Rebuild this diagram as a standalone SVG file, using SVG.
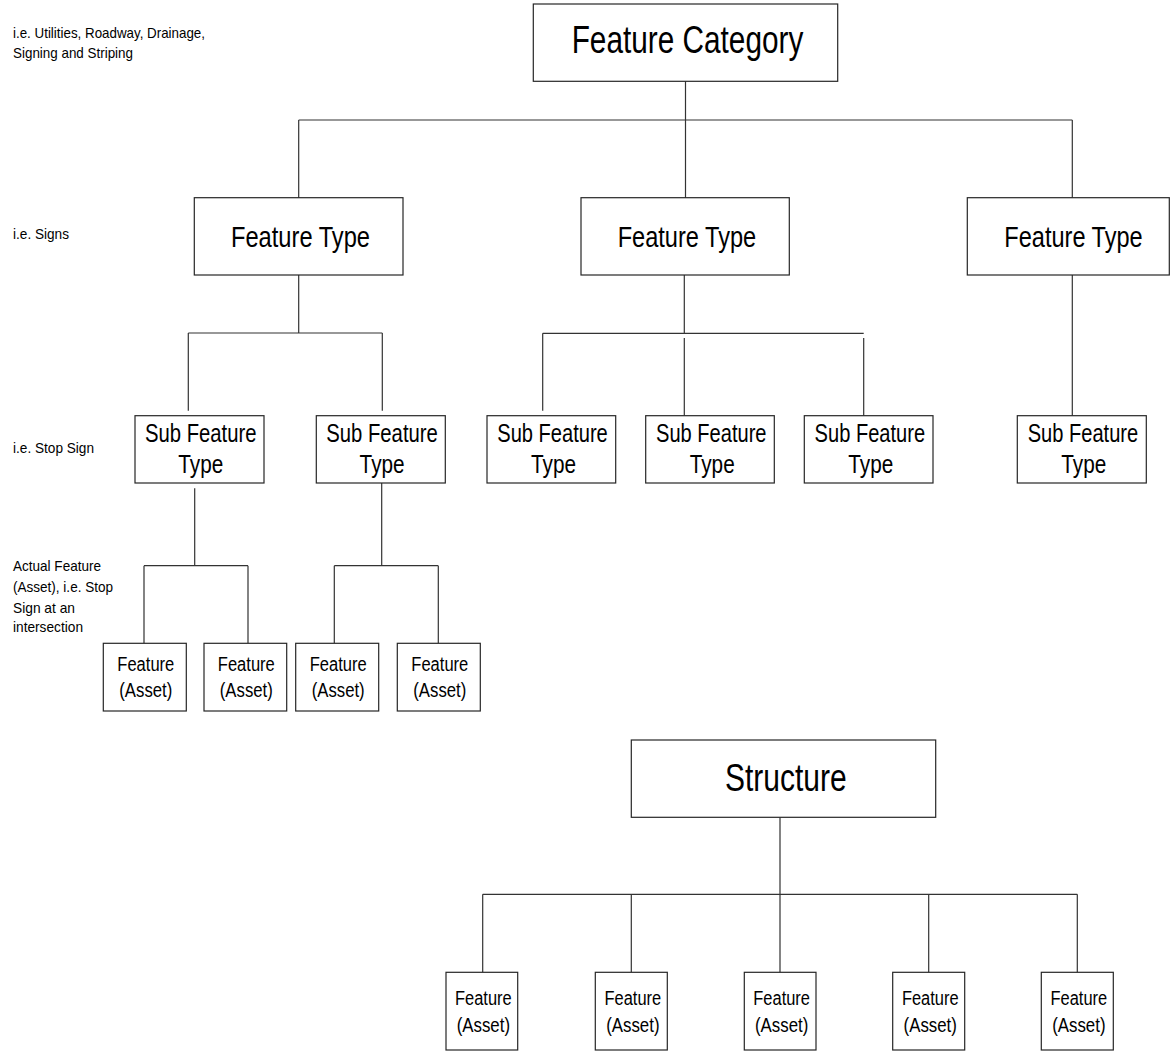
<svg xmlns="http://www.w3.org/2000/svg" width="1170" height="1051" viewBox="0 0 1170 1051">
<style>
  .box { fill: #ffffff; stroke: #262626; stroke-width: 1.2; }
  .ln { fill: none; stroke: #333333; stroke-width: 1.2; }
  text { font-family: "Liberation Sans", Arial, sans-serif; fill: #000000; }
  .lbl { font-size: 15px; }
  .big { font-size: 38px; }
  .ft { font-size: 30px; }
  .sft { font-size: 25px; }
  .as { font-size: 20px; }
</style>
<rect width="1170" height="1051" fill="#ffffff"/>

<g id="side-labels">
  <text class="lbl" x="13" y="38" textLength="192" lengthAdjust="spacingAndGlyphs">i.e. Utilities, Roadway, Drainage,</text>
  <text class="lbl" x="13" y="58" textLength="120" lengthAdjust="spacingAndGlyphs">Signing and Striping</text>
  <text class="lbl" x="13" y="239" textLength="56" lengthAdjust="spacingAndGlyphs">i.e. Signs</text>
  <text class="lbl" x="13" y="453" textLength="81" lengthAdjust="spacingAndGlyphs">i.e. Stop Sign</text>
  <text class="lbl" x="13" y="571" textLength="88" lengthAdjust="spacingAndGlyphs">Actual Feature</text>
  <text class="lbl" x="13" y="592" textLength="100" lengthAdjust="spacingAndGlyphs">(Asset), i.e. Stop</text>
  <text class="lbl" x="13" y="613" textLength="62" lengthAdjust="spacingAndGlyphs">Sign at an</text>
  <text class="lbl" x="13" y="632" textLength="70" lengthAdjust="spacingAndGlyphs">intersection</text>
</g>

<g id="connectors">
  <path class="ln" d="M685.5 81 V198 M298.7 120 H1072.3 M298.7 120 V198 M1072.3 120 V198"/>
  <path class="ln" d="M298.7 275 V333 M188.3 333 H382.3 M188.3 333 V410.7 M382.3 333 V410.7"/>
  <path class="ln" d="M684.3 275 V333.3 M542.7 333.3 H863.7 M542.7 333.3 V410.7 M684.3 338 V415.7 M863.7 338 V415.7"/>
  <path class="ln" d="M1072.3 275 V415.7"/>
  <path class="ln" d="M194.7 488.3 V565.7 M144 565.7 H248 M144 565.7 V643.3 M248 565.7 V643.3"/>
  <path class="ln" d="M381.7 483 V565.7 M334.3 565.7 H438.3 M334.3 565.7 V643.3 M438.3 565.7 V643.3"/>
  <path class="ln" d="M780 817.3 V894.3 M482.7 894.3 H1077.3 M482.7 894.3 V972.3 M631.3 894.3 V972.3 M780 894.3 V972.3 M928.7 894.3 V972.3 M1077.3 894.3 V972.3"/>
</g>

<g id="feature-category">
  <rect class="box" x="533.3" y="4" width="304.4" height="77.3"/>
  <text class="big" x="571.7" y="53.3" textLength="231.6" lengthAdjust="spacingAndGlyphs">Feature Category</text>
</g>

<g id="feature-type-1">
  <rect class="box" x="194.3" y="197.7" width="208.7" height="77.3"/>
  <text class="ft" x="231" y="246.5" textLength="139" lengthAdjust="spacingAndGlyphs">Feature Type</text>
</g>
<g id="feature-type-2">
  <rect class="box" x="581" y="197.7" width="208.3" height="77.3"/>
  <text class="ft" x="617.7" y="246.5" textLength="138.5" lengthAdjust="spacingAndGlyphs">Feature Type</text>
</g>
<g id="feature-type-3">
  <rect class="box" x="967.3" y="197.7" width="202" height="77.3"/>
  <text class="ft" x="1073.5" y="246.5" text-anchor="middle" textLength="138.4" lengthAdjust="spacingAndGlyphs">Feature Type</text>
</g>

<g id="sub-feature-type-1">
  <rect class="box" x="135" y="415.7" width="129" height="67.3"/>
  <text class="sft" x="145" y="441.7" textLength="111.5" lengthAdjust="spacingAndGlyphs">Sub Feature</text>
  <text class="sft" x="178.3" y="472.7" textLength="45" lengthAdjust="spacingAndGlyphs">Type</text>
</g>
<g id="sub-feature-type-2">
  <rect class="box" x="316.3" y="415.7" width="129" height="67.3"/>
  <text class="sft" x="326.3" y="441.7" textLength="111.5" lengthAdjust="spacingAndGlyphs">Sub Feature</text>
  <text class="sft" x="359.6" y="472.7" textLength="45" lengthAdjust="spacingAndGlyphs">Type</text>
</g>
<g id="sub-feature-type-3">
  <rect class="box" x="487" y="415.7" width="128.7" height="67.3"/>
  <text class="sft" x="497.3" y="441.7" textLength="110.5" lengthAdjust="spacingAndGlyphs">Sub Feature</text>
  <text class="sft" x="531" y="472.7" textLength="45" lengthAdjust="spacingAndGlyphs">Type</text>
</g>
<g id="sub-feature-type-4">
  <rect class="box" x="645.7" y="415.7" width="128.6" height="67.3"/>
  <text class="sft" x="656" y="441.7" textLength="110.5" lengthAdjust="spacingAndGlyphs">Sub Feature</text>
  <text class="sft" x="689.7" y="472.7" textLength="45" lengthAdjust="spacingAndGlyphs">Type</text>
</g>
<g id="sub-feature-type-5">
  <rect class="box" x="804.3" y="415.7" width="128.7" height="67.3"/>
  <text class="sft" x="814.6" y="441.7" textLength="110.5" lengthAdjust="spacingAndGlyphs">Sub Feature</text>
  <text class="sft" x="848.3" y="472.7" textLength="45" lengthAdjust="spacingAndGlyphs">Type</text>
</g>
<g id="sub-feature-type-6">
  <rect class="box" x="1017.3" y="415.7" width="129" height="67.3"/>
  <text class="sft" x="1027.7" y="441.7" textLength="110.5" lengthAdjust="spacingAndGlyphs">Sub Feature</text>
  <text class="sft" x="1061.3" y="472.7" textLength="45" lengthAdjust="spacingAndGlyphs">Type</text>
</g>

<g id="asset-1">
  <rect class="box" x="103.3" y="643.3" width="83" height="67.7"/>
  <text class="as" x="117.3" y="670.7" textLength="57" lengthAdjust="spacingAndGlyphs">Feature</text>
  <text class="as" x="119.3" y="696.7" textLength="53" lengthAdjust="spacingAndGlyphs">(Asset)</text>
</g>
<g id="asset-2">
  <rect class="box" x="204" y="643.3" width="82.7" height="67.7"/>
  <text class="as" x="217.8" y="670.7" textLength="57" lengthAdjust="spacingAndGlyphs">Feature</text>
  <text class="as" x="219.8" y="696.7" textLength="53" lengthAdjust="spacingAndGlyphs">(Asset)</text>
</g>
<g id="asset-3">
  <rect class="box" x="295.7" y="643.3" width="83" height="67.7"/>
  <text class="as" x="309.7" y="670.7" textLength="57" lengthAdjust="spacingAndGlyphs">Feature</text>
  <text class="as" x="311.7" y="696.7" textLength="53" lengthAdjust="spacingAndGlyphs">(Asset)</text>
</g>
<g id="asset-4">
  <rect class="box" x="397.3" y="643.3" width="83" height="67.7"/>
  <text class="as" x="411.3" y="670.7" textLength="57" lengthAdjust="spacingAndGlyphs">Feature</text>
  <text class="as" x="413.3" y="696.7" textLength="53" lengthAdjust="spacingAndGlyphs">(Asset)</text>
</g>

<g id="structure">
  <rect class="box" x="631.3" y="740" width="304.4" height="77.3"/>
  <text class="big" x="725" y="790.7" textLength="121.7" lengthAdjust="spacingAndGlyphs">Structure</text>
</g>

<g id="structure-asset-1">
  <rect class="box" x="446" y="972.3" width="71.7" height="77.7"/>
  <text class="as" x="455" y="1005" textLength="56.7" lengthAdjust="spacingAndGlyphs">Feature</text>
  <text class="as" x="456.7" y="1031.7" textLength="53.3" lengthAdjust="spacingAndGlyphs">(Asset)</text>
</g>
<g id="structure-asset-2">
  <rect class="box" x="595.3" y="972.3" width="72" height="77.7"/>
  <text class="as" x="604.5" y="1005" textLength="56.7" lengthAdjust="spacingAndGlyphs">Feature</text>
  <text class="as" x="606.2" y="1031.7" textLength="53.3" lengthAdjust="spacingAndGlyphs">(Asset)</text>
</g>
<g id="structure-asset-3">
  <rect class="box" x="744.3" y="972.3" width="71.7" height="77.7"/>
  <text class="as" x="753.3" y="1005" textLength="56.7" lengthAdjust="spacingAndGlyphs">Feature</text>
  <text class="as" x="755" y="1031.7" textLength="53.3" lengthAdjust="spacingAndGlyphs">(Asset)</text>
</g>
<g id="structure-asset-4">
  <rect class="box" x="892.7" y="972.3" width="72" height="77.7"/>
  <text class="as" x="901.9" y="1005" textLength="56.7" lengthAdjust="spacingAndGlyphs">Feature</text>
  <text class="as" x="903.6" y="1031.7" textLength="53.3" lengthAdjust="spacingAndGlyphs">(Asset)</text>
</g>
<g id="structure-asset-5">
  <rect class="box" x="1041.3" y="972.3" width="72" height="77.7"/>
  <text class="as" x="1050.5" y="1005" textLength="56.7" lengthAdjust="spacingAndGlyphs">Feature</text>
  <text class="as" x="1052.2" y="1031.7" textLength="53.3" lengthAdjust="spacingAndGlyphs">(Asset)</text>
</g>
</svg>
